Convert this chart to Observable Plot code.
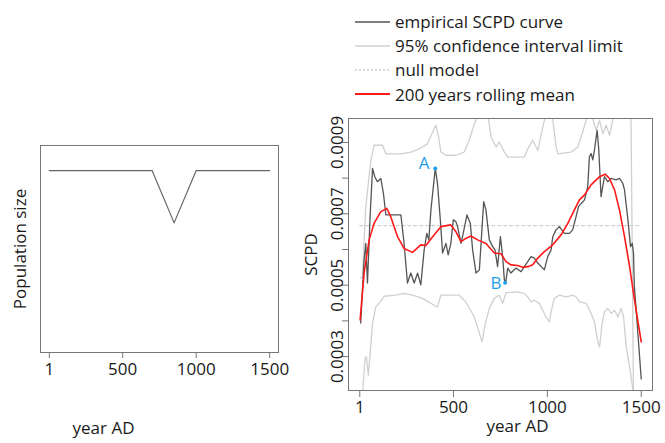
<!DOCTYPE html>
<html><head><meta charset="utf-8">
<script src="https://cdn.jsdelivr.net/npm/d3@7"></script>
<script src="https://cdn.jsdelivr.net/npm/@observablehq/plot@0.6"></script>
<style>
body{margin:0;background:#fff;}
#wrap{position:relative;width:665px;height:443px;overflow:hidden;font-family:"Open Sans",sans-serif;}
#left,#right{position:absolute;}
#left{left:0;top:0}
#right{left:300px;top:100px}
#legend{position:absolute;left:355px;top:9.5px;font-size:17px;color:#1a1a1a;}
.row{height:24.2px;display:flex;align-items:center;white-space:nowrap}
.row svg{margin-right:5px}
</style></head><body><div id="wrap"><div id="legend"></div><div id="left"></div><div id="right"></div></div>
<script>
const xTicks = [1, 500, 1000, 1500];
const yTicks = [0.0003, 0.0004, 0.0005, 0.0006, 0.0007, 0.0008, 0.0009];
const yTickLabels = ["0.0003", "", "0.0005", "", "0.0007", "", "0.0009"];

const popYear = [1, 700, 850, 1000, 1500];
const popSize = [1000, 1000, 700, 1000, 1000];

const empYear = [6,24,33,42,56,69,81,95,113,127,140,220,237,255,273,291,309,326,344,358,369,380,403,415,430,442,460,472,486,499,513,522,540,552,572,590,602,620,638,661,673,691,709,721,735,750,762,771,778,789,806,833,860,878,913,931,949,984,1002,1020,1029,1046,1064,1091,1118,1135,1153,1166,1180,1198,1215,1224,1233,1242,1251,1265,1274,1286,1304,1322,1340,1366,1384,1402,1411,1429,1443,1452,1459,1463,1480,1500];
const empValue = [0.000394,0.000571,0.000617,0.000506,0.000692,0.000827,0.000804,0.000790,0.000799,0.000757,0.000697,0.000697,0.000617,0.000506,0.000534,0.000506,0.000534,0.000501,0.000599,0.000645,0.000627,0.000711,0.000827,0.000785,0.000683,0.000590,0.000617,0.000585,0.000617,0.000683,0.000678,0.000664,0.000617,0.000645,0.000697,0.000673,0.000599,0.000534,0.000543,0.000734,0.000711,0.000627,0.000608,0.000599,0.000552,0.000636,0.000580,0.000515,0.000507,0.000548,0.000534,0.000548,0.000538,0.000552,0.000580,0.000576,0.000562,0.000543,0.000580,0.000599,0.000636,0.000655,0.000664,0.000645,0.000645,0.000655,0.000692,0.000720,0.000729,0.000739,0.000776,0.000860,0.000869,0.000851,0.000879,0.000934,0.000879,0.000748,0.000804,0.000790,0.000799,0.000795,0.000799,0.000785,0.000767,0.000683,0.000608,0.000617,0.000590,0.000500,0.000380,0.000237];

const meanYear = [3,24,51,77,113,145,166,202,237,282,326,353,389,433,486,513,540,566,593,629,673,718,753,780,806,842,869,896,922,949,984,1029,1073,1109,1144,1171,1198,1233,1278,1308,1331,1358,1384,1411,1438,1464,1500];
const meanValue = [0.000403,0.000534,0.000627,0.000673,0.000706,0.000715,0.000692,0.000636,0.000603,0.000592,0.000613,0.000611,0.000636,0.000664,0.000669,0.000650,0.000622,0.000631,0.000638,0.000627,0.000617,0.000590,0.000588,0.000566,0.000557,0.000555,0.000550,0.000552,0.000557,0.000576,0.000594,0.000613,0.000641,0.000673,0.000711,0.000739,0.000753,0.000781,0.000804,0.000811,0.000799,0.000767,0.000711,0.000636,0.000552,0.000459,0.000341];

const ciUpYear = [5,15,33,60,77,122,140,220,273,317,362,389,406,421,433,460,513,557,584,611,629,650,680,700,727,744,771,789,878,896,922,949,966,984,1000,1020,1029,1047,1056,1127,1162,1180,1207,1225,1242,1260,1278,1296,1313,1331,1349,1365,1445,1452,1460];
const ciUpValue = [0.000520,0.000523,0.000719,0.000850,0.000892,0.000892,0.000868,0.000868,0.000873,0.000882,0.000896,0.000929,0.000948,0.000915,0.000873,0.000864,0.000864,0.000873,0.000906,0.000952,0.000971,0.001000,0.000990,0.000915,0.000887,0.000901,0.000873,0.000859,0.000859,0.000882,0.000906,0.000878,0.000920,0.000962,0.001000,0.001000,0.000962,0.000887,0.000868,0.000873,0.000887,0.000915,0.000962,0.001000,0.000965,0.000934,0.000962,0.000924,0.000948,0.000920,0.000965,0.001000,0.001000,0.000600,0.000100];

const ciLoYear = [10,29,36,47,69,86,104,131,193,237,282,335,380,415,433,531,566,611,638,652,670,691,717,744,762,780,833,878,896,913,931,957,993,1011,1020,1037,1064,1100,1136,1153,1171,1207,1233,1251,1269,1278,1292,1304,1322,1340,1358,1376,1393,1406,1420,1438,1456,1470];
const ciLoValue = [0.000150,0.000295,0.000300,0.000248,0.000393,0.000439,0.000449,0.000469,0.000472,0.000477,0.000472,0.000463,0.000449,0.000439,0.000472,0.000472,0.000453,0.000411,0.000365,0.000341,0.000393,0.000435,0.000463,0.000472,0.000449,0.000479,0.000481,0.000477,0.000467,0.000453,0.000458,0.000449,0.000411,0.000397,0.000425,0.000463,0.000472,0.000467,0.000472,0.000467,0.000453,0.000449,0.000421,0.000397,0.000341,0.000327,0.000393,0.000425,0.000435,0.000421,0.000430,0.000411,0.000435,0.000411,0.000327,0.000271,0.000206,0.000150];

const nullYear = [1, 1500];
const nullValue = [0.000667, 0.000667];

const pointLabels = ["A", "B"];
const pointYear = [403, 775];
const pointValue = [0.000827, 0.000507];

const legendLabels = ["empirical SCPD curve", "95% confidence interval limit", "null model", "200 years rolling mean"];
const colEmp = "#555555", colCI = "#d0d0d0", colNull = "#d0d0d0", colMean = "#ff1a1a", colPt = "#1fa0e8";
const txt = "#1a1a1a";

const zip = (xs, ys) => xs.map((x, i) => ({x, y: ys[i]}));
const pop = zip(popYear, popSize);
const emp = zip(empYear, empValue);
const mean = zip(meanYear, meanValue);
const ciUp = zip(ciUpYear, ciUpValue);
const ciLo = zip(ciLoYear, ciLoValue);
const nul = zip(nullYear, nullValue);
const pts = pointLabels.map((l, i) => ({label: l, x: pointYear[i], y: pointValue[i]}));

const font = {fontFamily: "Open Sans", fontSize: "17px", color: txt, background: "transparent", overflow: "visible"};

const left = Plot.plot({
  width: 300, height: 443,
  marginLeft: 40, marginRight: 22, marginTop: 145, marginBottom: 91,
  style: font,
  x: {domain: [-59, 1560]},
  y: {domain: [-44, 1144], axis: null},
  marks: [
    Plot.line(pop, {x: "x", y: "y", stroke: "#666", strokeWidth: 1.2}),
    Plot.frame({stroke: "#777"}),
    Plot.axisX({ticks: xTicks, tickSize: 6, tickPadding: 4, label: null, stroke: "#777", fill: txt, tickFormat: d => String(d)}),
    Plot.text(["Population size"], {frameAnchor: "left", textAnchor: "middle", rotate: -90, dx: -20, fill: txt}),
    Plot.text(["year AD"], {frameAnchor: "bottom-left", textAnchor: "middle", dx: 63, dy: 81, fill: txt})
  ]
});
document.getElementById("left").append(left);

const right = Plot.plot({
  width: 365, height: 343,
  marginLeft: 48, marginRight: 13, marginTop: 18, marginBottom: 53,
  style: font,
  x: {domain: [-59, 1560]},
  y: {domain: [0.000205, 0.000967]},
  marks: [
    Plot.line(nul, {x: "x", y: "y", stroke: colNull, strokeWidth: 1.2, strokeDasharray: "3,3", clip: true}),
    Plot.line(ciUp, {x: "x", y: "y", stroke: colCI, strokeWidth: 1.3, clip: true}),
    Plot.line(ciLo, {x: "x", y: "y", stroke: colCI, strokeWidth: 1.3, clip: true}),
    Plot.line(emp, {x: "x", y: "y", stroke: colEmp, strokeWidth: 1.3, clip: true}),
    Plot.line(mean, {x: "x", y: "y", stroke: colMean, strokeWidth: 1.6, clip: true}),
    Plot.dot(pts, {x: "x", y: "y", r: 2, fill: colPt}),
    Plot.text(pts.slice(0, 1), {x: "x", y: "y", text: "label", fill: colPt, dx: -11, dy: -5}),
    Plot.text(pts.slice(1), {x: "x", y: "y", text: "label", fill: colPt, dx: -9, dy: 1}),
    Plot.frame({stroke: "#777"}),
    Plot.axisX({ticks: xTicks, tickSize: 7, tickPadding: 3, label: null, stroke: "#777", fill: txt, tickFormat: d => String(d)}),
    Plot.axisY({ticks: yTicks, tickSize: 6, tickPadding: 0, tickRotate: -90, label: null, stroke: "#777", fill: txt,
      tickFormat: d => yTickLabels[yTicks.findIndex(t => Math.abs(t - d) < 1e-9)]}),
    Plot.text(["SCPD"], {frameAnchor: "left", textAnchor: "middle", rotate: -90, dx: -37, fill: txt}),
    Plot.text(["year AD"], {frameAnchor: "bottom", textAnchor: "middle", dx: 17, dy: 41, fill: txt})
  ]
});
document.getElementById("right").append(right);

const legendStyles = [
  {stroke: colEmp, dash: null},
  {stroke: colCI, dash: null},
  {stroke: colNull, dash: "2,2"},
  {stroke: colMean, dash: null}
];
const lg = document.getElementById("legend");
legendLabels.forEach((t, i) => {
  const row = document.createElement("div");
  row.className = "row";
  const s = legendStyles[i];
  row.innerHTML = `<svg width="35" height="6"><line x1="0" x2="35" y1="3" y2="3" stroke="${s.stroke}" stroke-width="${i === 3 ? 1.8 : 1.3}" ${s.dash ? `stroke-dasharray="${s.dash}"` : ""}/></svg><span>${t}</span>`;
  lg.append(row);
});
</script>
</body></html>
